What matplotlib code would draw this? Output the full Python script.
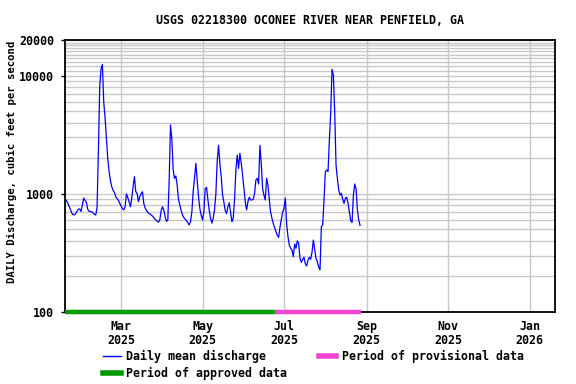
import numpy as np
import matplotlib
matplotlib.use('Agg')
import matplotlib.pyplot as plt
from matplotlib.lines import Line2D
from matplotlib.ticker import FixedLocator, NullFormatter, FixedFormatter

title = "USGS 02218300 OCONEE RIVER NEAR PENFIELD, GA"
y_label = "DAILY Discharge, cubic feet per second"
start_date = '2025-01-18'
discharge = [
    904, 880, 840, 790, 740, 690, 665, 665, 680, 710,
    740, 745, 710, 800, 918, 880, 850, 740, 712, 710,
    705, 690, 670, 661, 760, 2270, 8050, 11500, 12400, 6000,
    4400, 3000, 2000, 1550, 1300, 1150, 1070, 1030, 944, 910,
    880, 830, 790, 750, 730, 777, 1000, 930, 857, 777,
    918, 1150, 1396, 1042, 1010, 857, 944, 1000, 1042, 830,
    760, 725, 695, 680, 670, 655, 640, 620, 600, 590,
    575, 600, 720, 777, 730, 640, 585, 600, 1265, 3820,
    2950, 1600, 1352, 1415, 1187, 898, 803, 720, 661, 630,
    610, 593, 570, 545, 580, 700, 1050, 1350, 1811, 1300,
    950, 750, 660, 600, 700, 1100, 1135, 898, 730, 620,
    565, 620, 740, 1000, 1900, 2570, 1800, 1396, 980, 850,
    720, 680, 777, 840, 700, 580, 620, 900, 1600, 2130,
    1640, 2200, 1811, 1445, 1112, 857, 730, 857, 934, 886,
    886, 900, 1010, 1310, 1352, 1210, 2570, 1800, 1112, 975,
    886, 1352, 1187, 900, 700, 620, 560, 520, 480, 445,
    428, 520, 600, 700, 750, 918, 560, 434, 369, 346,
    335, 294, 376, 346, 400, 380, 285, 263, 279, 290,
    255, 245, 275, 290, 279, 320, 406, 340, 285, 266,
    240, 227, 527, 545, 886, 1538, 1590, 1538, 2850, 4800,
    11300, 10100, 4950, 1750, 1352, 1077, 975, 1010, 898, 830,
    918, 934, 830, 705, 593, 571, 975, 1210, 1100, 730,
    600, 540,
]
approved_start = '2025-01-18'
approved_end = '2025-06-24'
provisional_end = '2025-08-28'
x_ticks = ['2025-03-01', '2025-05-01', '2025-07-01', '2025-09-01', '2025-11-01', '2026-01-01']
x_tick_labels = ['Mar\n2025', 'May\n2025', 'Jul\n2025', 'Sep\n2025', 'Nov\n2025', 'Jan\n2026']
y_ticks = [100, 1000, 10000, 20000]
y_tick_labels = ['100', '1000', '10000', '20000']
y_grid = [200, 300, 400, 500, 600, 700, 800, 900,
          2000, 3000, 4000, 5000, 6000, 7000, 8000, 9000,
          11000, 12000, 13000, 14000, 15000, 16000, 17000, 18000, 19000]
x_range = ['2025-01-18', '2026-01-20']

plt.rcParams['font.family'] = ['DejaVu Sans Mono']
plt.rcParams['font.weight'] = 'bold'
plt.rcParams['font.size'] = 8.4

fig = plt.figure(figsize=(5.76, 3.84), dpi=100)
ax = fig.add_axes([65/576, 1 - 312/384, 490/576, 272/384])

dates = np.datetime64(start_date) + np.arange(len(discharge))
ax.plot(dates, discharge, color='#0000ff', lw=0.9, zorder=3)

ax.set_yscale('log')
ax.set_ylim(100, 20000)
ax.set_xlim(np.datetime64(x_range[0]), np.datetime64(x_range[1]))

ax.yaxis.set_major_locator(FixedLocator(y_ticks))
ax.yaxis.set_major_formatter(FixedFormatter(y_tick_labels))
ax.yaxis.set_minor_locator(FixedLocator(y_grid))
ax.yaxis.set_minor_formatter(NullFormatter())
ax.set_xticks([np.datetime64(t) for t in x_ticks])
ax.set_xticklabels(x_tick_labels, linespacing=1.15)

ax.grid(which='both', axis='y', color='#c8c8c8', lw=1.0, zorder=0)
ax.grid(which='major', axis='x', color='#c8c8c8', lw=1.0, zorder=0)
ax.set_axisbelow(True)

ax.tick_params(axis='y', which='major', direction='out', length=3, width=1, pad=5)
ax.tick_params(axis='y', which='minor', length=0)
ax.tick_params(axis='x', which='both', length=0, pad=5.5)
for s in ax.spines.values():
    s.set_linewidth(1.3)

ax.plot([np.datetime64(approved_start), np.datetime64(approved_end)], [100, 100],
        color='#009900', lw=3.2, solid_capstyle='butt', clip_on=False, zorder=4)
ax.plot([np.datetime64(approved_end), np.datetime64(provisional_end)], [100, 100],
        color='#f046d0', lw=3.2, solid_capstyle='butt', clip_on=False, zorder=4)

fig.text(310/576, 1 - 20/384, title, ha='center', va='center')
fig.text(12/576, 1 - 162/384, y_label, rotation=90, ha='center', va='center',
         fontsize=7.7)

handles = [Line2D([], [], color='#0000ff', lw=1.0),
           Line2D([], [], color='#009900', lw=4),
           Line2D([], [], color='#f046d0', lw=4)]
labels = ['Daily mean discharge', 'Period of approved data', 'Period of provisional data']
fig.legend(handles, labels, ncol=2, loc='upper left',
           bbox_to_anchor=(103/576, 1 - 350/384), frameon=False,
           borderpad=0, borderaxespad=0, handlelength=1.5, handletextpad=0.5,
           columnspacing=2.7, labelspacing=0.3)

fig.savefig('out.png', dpi=100)
